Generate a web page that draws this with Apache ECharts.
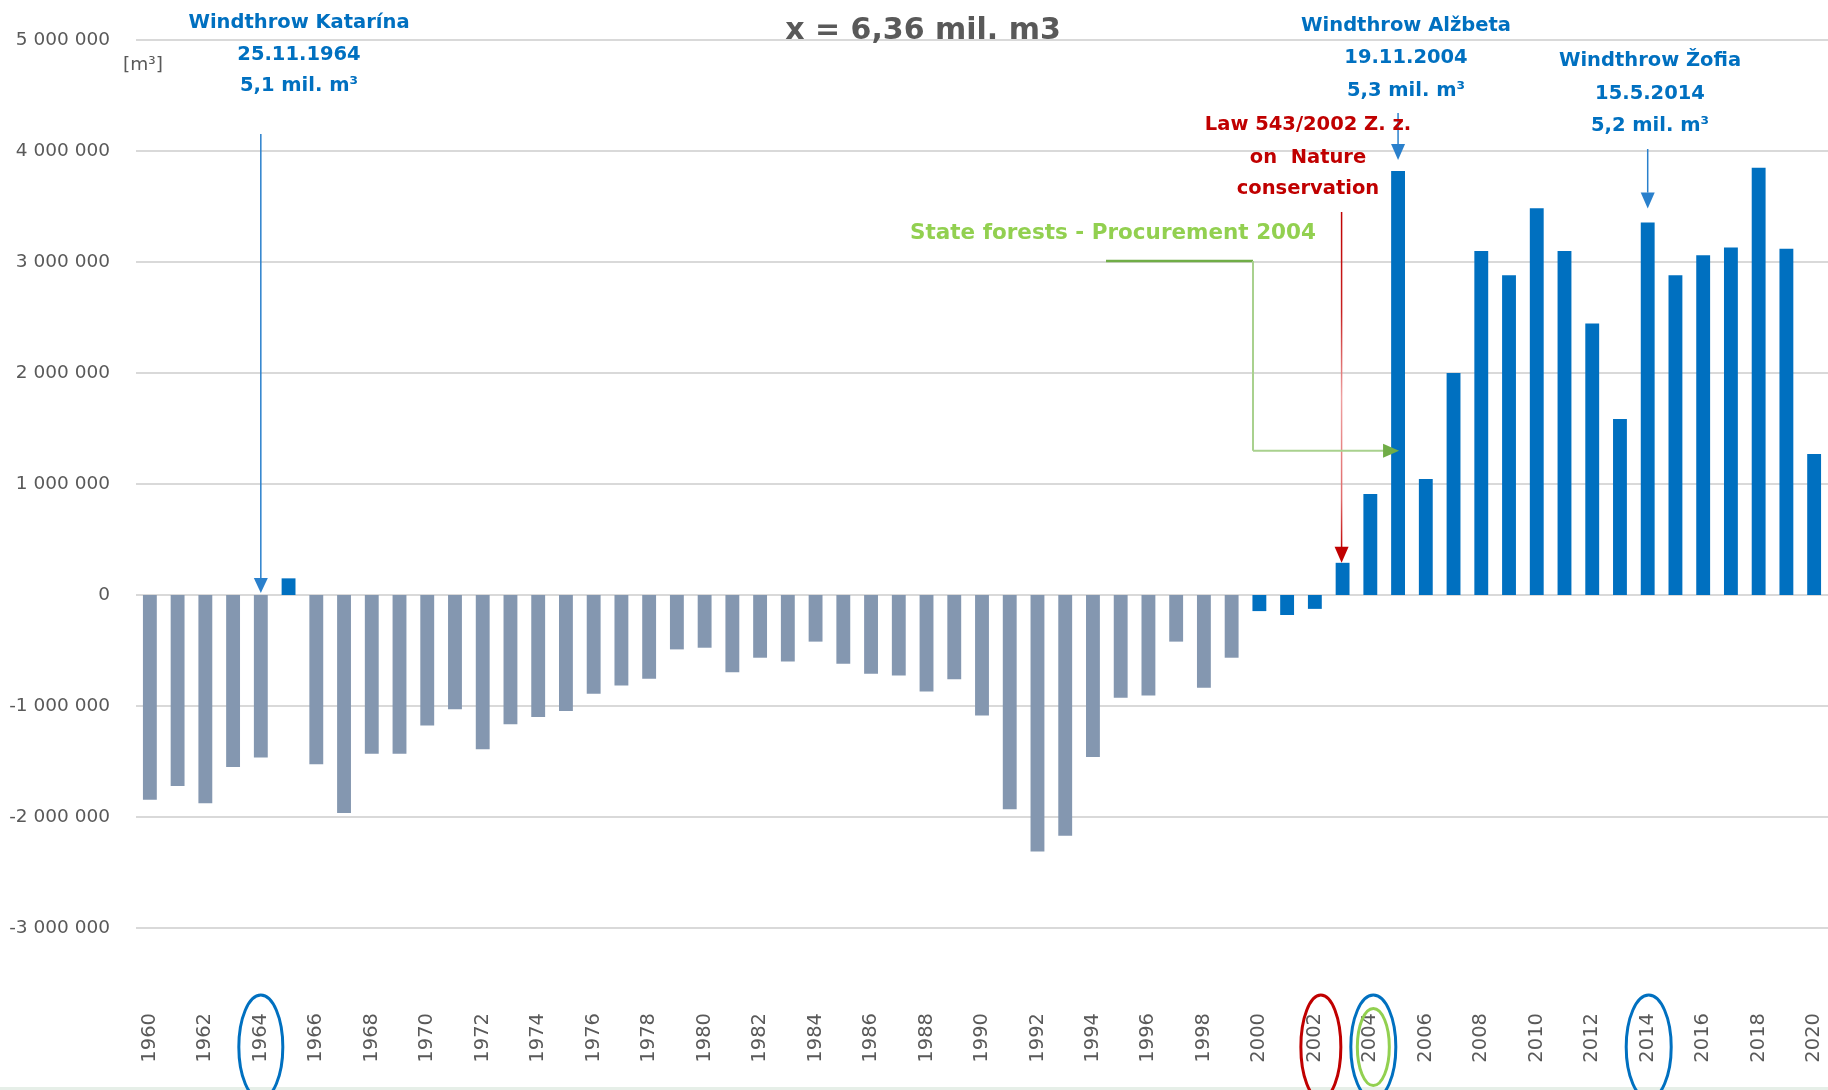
<!DOCTYPE html>
<html>
<head>
<meta charset="utf-8">
<script src="https://cdn.jsdelivr.net/npm/echarts@6/dist/echarts.min.js"></script>
<style>
html,body{margin:0;padding:0;background:#fff;}
#c{width:1828px;height:1090px;}
</style>
</head>
<body>
<div id="c"></div>
<script>
const years = ['1960','1961','1962','1963','1964','1965','1966','1967','1968','1969',
  '1970','1971','1972','1973','1974','1975','1976','1977','1978','1979',
  '1980','1981','1982','1983','1984','1985','1986','1987','1988','1989',
  '1990','1991','1992','1993','1994','1995','1996','1997','1998','1999',
  '2000','2001','2002','2003','2004','2005','2006','2007','2008','2009',
  '2010','2011','2012','2013','2014','2015','2016','2017','2018','2019','2020'];
const values = [-1845000,-1720000,-1875000,-1550000,-1465000,150000,-1525000,-1965000,-1430000,-1430000,
  -1175000,-1030000,-1390000,-1165000,-1100000,-1045000,-890000,-815000,-755000,-490000,
  -475000,-695000,-565000,-600000,-420000,-620000,-710000,-725000,-870000,-760000,
  -1085000,-1930000,-2310000,-2170000,-1460000,-925000,-905000,-420000,-835000,-565000,
  -145000,-180000,-125000,290000,910000,3820000,1045000,2000000,3100000,2880000,
  3485000,3100000,2445000,1585000,3355000,2880000,3060000,3130000,3850000,3120000,1270000];
const yTicks = [-3000000,-2000000,-1000000,0,1000000,2000000,3000000,4000000,5000000];
const titleText = 'x = 6,36 mil. m3';
const unitText = '[m³]';
const katarinaLines = ['Windthrow Katarína','25.11.1964','5,1 mil. m³'];
const alzbetaLines = ['Windthrow Alžbeta','19.11.2004','5,3 mil. m³'];
const zofiaLines = ['Windthrow Žofia','15.5.2014','5,2 mil. m³'];
const lawLines = ['Law 543/2002 Z. z.','on  Nature','conservation'];
const procurementText = 'State forests - Procurement 2004';
const circledYears = ['1964','2002','2004','2014'];

const FONT = 'DejaVu Sans';
const BLUE = '#0070c0', GREY = '#8497b0', RED = '#c00000', GREEN = '#92d050', DGREEN = '#70ad47';

function fmt(v){
  const s = Math.abs(v).toString().replace(/\B(?=(\d{3})+(?!\d))/g,' ');
  return (v<0?'-':'') + s;
}

const chart = echarts.init(document.getElementById('c'), null, {renderer:'canvas'});
chart.setOption({
  animation:false,
  backgroundColor:'#ffffff',
  grid:{left:136, top:40, width:1694, height:888, containLabel:false},
  xAxis:{
    type:'category', data:years, position:'bottom',
    axisLine:{show:false}, axisTick:{show:false},
    axisLabel:{rotate:90, interval:1, margin:85, fontSize:19.5, color:'#595959', fontFamily:FONT}
  },
  yAxis:{
    type:'value', min:yTicks[0], max:yTicks[yTicks.length-1], interval:1000000,
    axisLine:{show:false}, axisTick:{show:false},
    axisLabel:{formatter:fmt, fontSize:18.5, color:'#595959', fontFamily:FONT, margin:26},
    splitLine:{lineStyle:{color:'#d9d9d9', width:2}}
  },
  series:[{
    type:'bar', data:values, barWidth:'50%',
    itemStyle:{color:function(p){ return (p.value>0 || +years[p.dataIndex]>=2000) ? BLUE : GREY; }}
  }]
});

function px(cat, val){ return chart.convertToPixel({gridIndex:0}, [cat, val]); }
function idx(y){ return years.indexOf(y); }

const g = [];
function text(t, x, y, color, size, bold){
  g.push({type:'text', x:x, y:y, z:100, style:{text:t, fill:color, fontSize:size, fontWeight:bold?'bold':'normal', fontFamily:FONT, align:'center', verticalAlign:'middle'}});
}
function line(x1,y1,x2,y2,color,w){
  g.push({type:'line', z:100, shape:{x1:x1,y1:y1,x2:x2,y2:y2}, style:{stroke:color, lineWidth:w}});
}
function downArrow(x, yTop, yTip, color, w, hw, hh){
  line(x, yTop, x, yTip-hh, color, w);
  g.push({type:'polygon', z:100, shape:{points:[[x-hw,yTip-hh],[x+hw,yTip-hh],[x,yTip]]}, style:{fill:color}});
}

// title & unit
text(titleText, 923, 31, '#595959', 30, true);
text(unitText, 143, 65, '#595959', 18.5, false);

// Katarína
[22.7, 55, 86].forEach((y,i)=>text(katarinaLines[i], 299, y, BLUE, 19.5, true));
const k = px('1964', 0);
downArrow(k[0], 134, k[1]-2, '#2a80cc', 1.5, 7, 15);

// Alžbeta
[26, 58, 90.5].forEach((y,i)=>text(alzbetaLines[i], 1406, y, BLUE, 19.5, true));
const a = px('2005', values[idx('2005')]);
downArrow(a[0], 113, a[1]-11, '#2a80cc', 1.5, 7, 16);

// Žofia
[61, 94, 126].forEach((y,i)=>text(zofiaLines[i], 1650, y, BLUE, 19.5, true));
const z = px('2014', values[idx('2014')]);
downArrow(z[0], 149, z[1]-14, '#2a80cc', 1.5, 7, 16);

// Law
[125, 158, 189].forEach((y,i)=>text(lawLines[i], 1308, y, RED, 19.5, true));
const l = px('2003', values[idx('2003')]);
g.push({type:'line', z:100, shape:{x1:l[0]-1,y1:212,x2:l[0]-1,y2:l[1]-15},
  style:{stroke:new echarts.graphic.LinearGradient(0,0,0,1,[
    {offset:0,color:'#c00000'},{offset:0.3,color:'#c82020'},{offset:0.55,color:'#eea0a0'},{offset:0.85,color:'#e06a6a'},{offset:1,color:'#c00000'}]), lineWidth:1.5}});
g.push({type:'polygon', z:100, shape:{points:[[l[0]-8,l[1]-16],[l[0]+6,l[1]-16],[l[0]-1,l[1]]]}, style:{fill:RED}});

// Procurement
text(procurementText, 1113, 233, GREEN, 21.5, true);
const p = px('2005', 1300000);
line(1106, 261, 1253, 261, DGREEN, 2.5);
line(1253, 261, 1253, p[1], '#a9d18e', 2);
line(1253, p[1], p[0]-14, p[1], '#a9d18e', 2);
g.push({type:'polygon', z:100, shape:{points:[[p[0]-15,p[1]-7],[p[0]-15,p[1]+7],[p[0]+1,p[1]]]}, style:{fill:DGREEN}});

// circled year labels
function ell(cat, dx, rx, ry, color){
  const c = px(cat, 0);
  g.push({type:'ellipse', z:100, shape:{cx:c[0]+dx, cy:1047, rx:rx, ry:ry}, style:{fill:'none', stroke:color, lineWidth:3}});
}
ell(circledYears[0], 0, 22, 52, BLUE);
ell(circledYears[1], 6, 20, 52, RED);
ell(circledYears[2], 3, 22.5, 52, BLUE);
ell(circledYears[2], 3, 16, 38.5, GREEN);
ell(circledYears[3], 1, 22.5, 52, BLUE);

// faint bottom border
g.push({type:'rect', z:1, shape:{x:0, y:1087, width:1828, height:3}, style:{fill:'#e6efe8'}});

chart.setOption({graphic:g});
</script>
</body>
</html>
